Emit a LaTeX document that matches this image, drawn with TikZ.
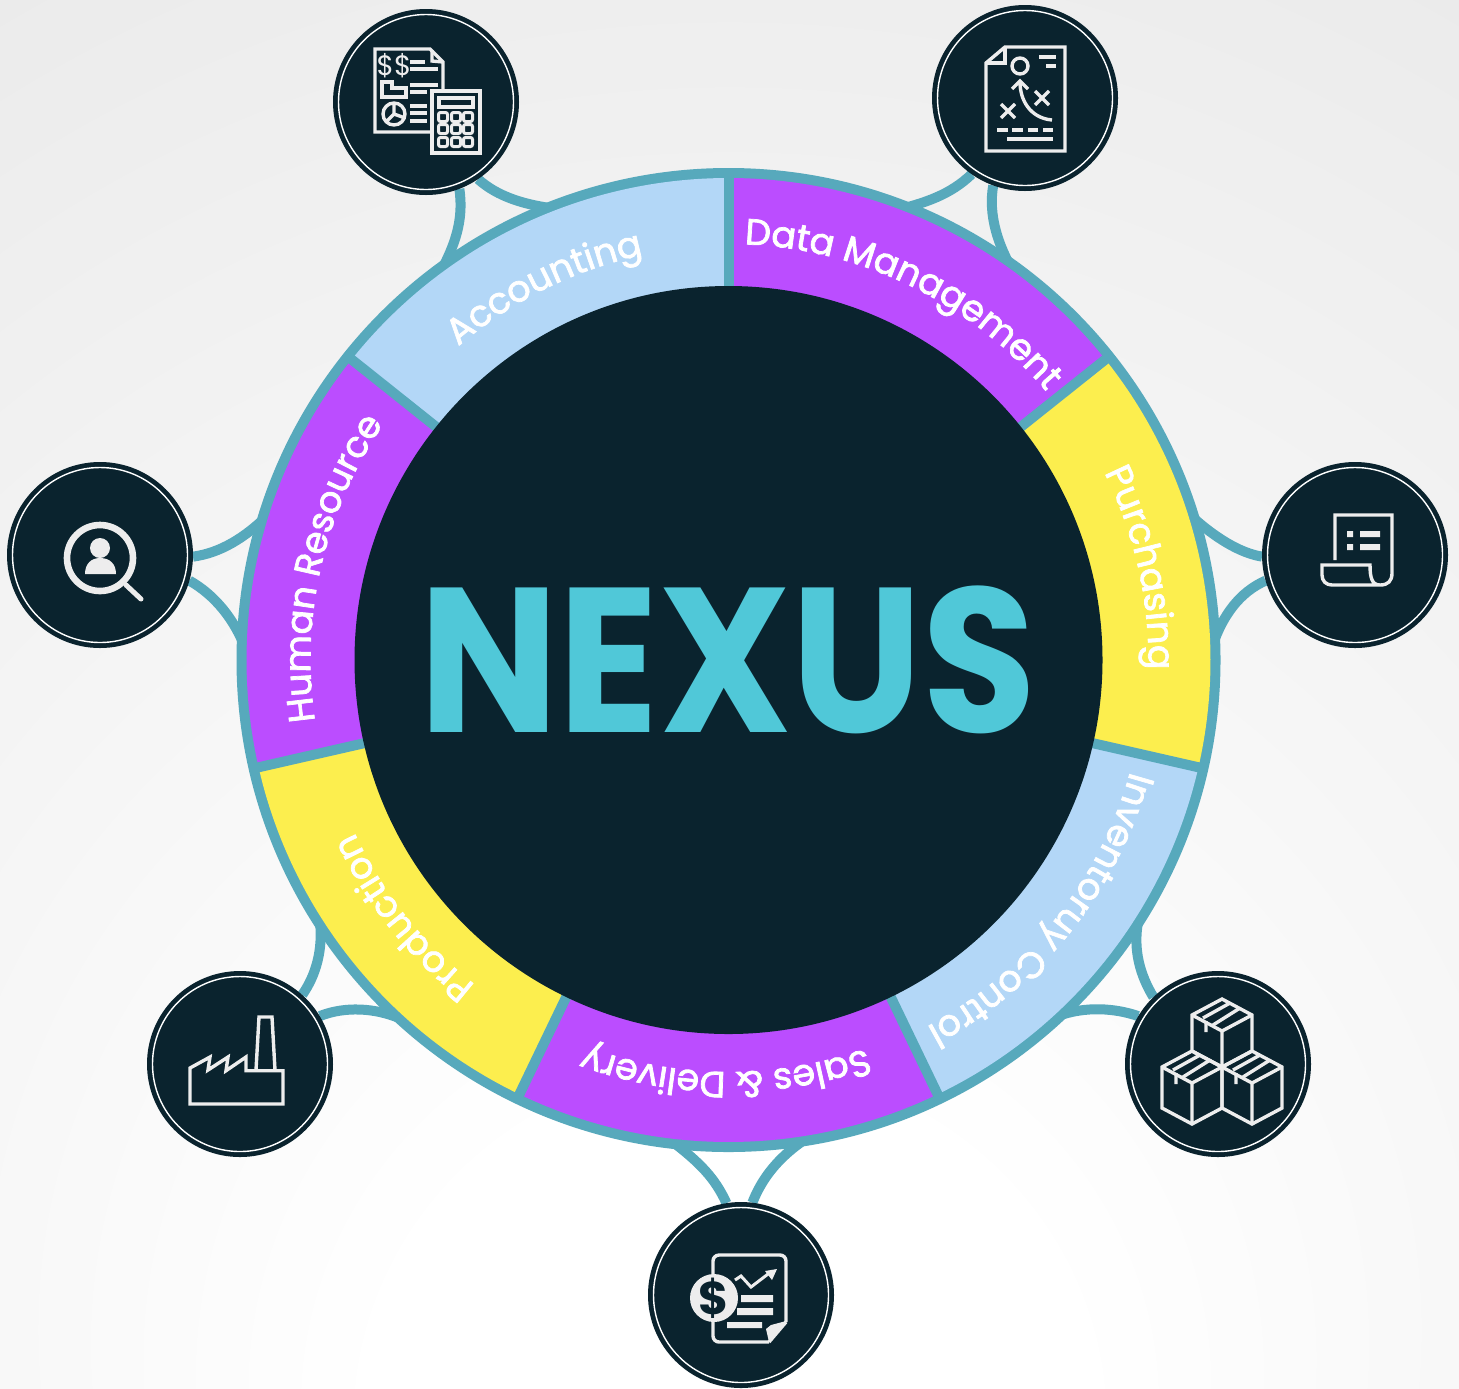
\documentclass[tikz,border=0pt]{standalone}
\usepackage{fontspec}
\setmainfont{Poppins}
\newfontfamily\labelfont[FakeBold=2]{Poppins}
\usetikzlibrary{decorations.text}
\definecolor{ringteal}{HTML}{57A9BC}
\definecolor{darknavy}{HTML}{0A232E}
\definecolor{nexuscyan}{HTML}{50C8D8}
\definecolor{segblue}{HTML}{B3D7F7}
\definecolor{segpurple}{HTML}{BB4DFF}
\definecolor{segyellow}{HTML}{FCEE4E}
\definecolor{iconline}{HTML}{EDEDED}
\definecolor{bggrey}{HTML}{EBEBEB}
\pgfdeclareradialshading{bgshade}{\pgfpoint{0bp}{-30bp}}{color(0bp)=(white); color(12bp)=(white); color(48bp)=(bggrey); color(100bp)=(bggrey)}
\pgfdeclarelayer{bglayer}
\pgfdeclarelayer{connlayer}
\pgfsetlayers{bglayer,connlayer,main}
\newcommand{\seglabel}[4]{% mid angle, half span, radius, text
  \path[decorate,decoration={text along path,text align=center,
    text={|\labelfont\fontsize{18.2}{20}\selectfont\color{white}|#4}}]
    ({#1+#2}:#3) arc[start angle={#1+#2},end angle={#1-#2},radius=#3];}
\newcommand{\ringseg}[3]{\fill[#3] (0,0) -- (#1:482) arc[start angle=#1,end angle=#2,radius=482] -- cycle;}
\tikzset{
  hub/.style={circle,fill=darknavy,minimum size=93pt,inner sep=0pt,outer sep=0pt},
  hubring/.style={draw=white,line width=0.7pt},
  linker/.style={draw=ringteal,line width=5pt},
  icon/.style={draw=iconline,line width=1.7pt,line join=miter},
  iconfill/.style={fill=iconline,draw=none}
}
\begin{document}
\begin{tikzpicture}[x=.5pt,y=-.5pt]
\useasboundingbox (0,0) rectangle (1459,1388);
\begin{pgfonlayer}{bglayer}
\shade[shading=bgshade] (0,0) rectangle (1459,1388);
\end{pgfonlayer}

% Hubs
\node[hub] (ic1) at (426,102) {};
\node[hub] (ic2) at (1025,98) {};
\node[hub] (ic3) at (1355,555) {};
\node[hub] (ic4) at (100,555) {};
\node[hub] (ic5) at (1218,1064) {};
\node[hub] (ic6) at (240,1064) {};
\node[hub] (ic7) at (741,1295) {};
\foreach \n in {ic1,ic2,ic3,ic4,ic5,ic6,ic7}
  \draw[hubring] (\n) circle[radius=87.5];

% Connector attachment points on the ring
\coordinate (r1a) at (557,209);
\coordinate (r1b) at (440,273);
\coordinate (r2a) at (893,211);
\coordinate (r2b) at (1013,271);
\coordinate (r3a) at (1189,514);
\coordinate (r3b) at (1211,650);
\coordinate (r4a) at (269,514);
\coordinate (r4b) at (246,650);
\coordinate (r5a) at (1138,922);
\coordinate (r5b) at (1058,1016);
\coordinate (r6a) at (320,922);
\coordinate (r6b) at (399,1018);
\coordinate (r7a) at (673,1142);
\coordinate (r7b) at (804,1140);

\begin{pgfonlayer}{connlayer}
\draw[linker] (ic1.-56) .. controls (498,197) and (525,205) .. (r1a);
\draw[linker] (ic1.-69) .. controls (464,220) and (455,245) .. (r1b);
\draw[linker] (ic2.-125) .. controls (950,195) and (925,203) .. (r2a);
\draw[linker] (ic2.-110) .. controls (988,215) and (998,245) .. (r2b);
\draw[linker] (ic3.181) .. controls (1240,553) and (1215,538) .. (r3a);
\draw[linker] (ic3.-164) .. controls (1240,592) and (1222,615) .. (r3b);
\draw[linker] (ic4.-1) .. controls (220,553) and (245,538) .. (r4a);
\draw[linker] (ic4.-16) .. controls (215,595) and (235,620) .. (r4b);
\draw[linker] (ic5.134) .. controls (1140,975) and (1133,950) .. (r5a);
\draw[linker] (ic5.149) .. controls (1115,1008) and (1085,1006) .. (r5b);
\draw[linker] (ic6.48) .. controls (316,975) and (323,950) .. (r6a);
\draw[linker] (ic6.31.5) .. controls (345,1006) and (375,1008) .. (r6b);
\draw[linker] (ic7.99) .. controls (715,1178) and (700,1163) .. (r7a);
\draw[linker] (ic7.83) .. controls (762,1178) and (778,1158) .. (r7b);
\end{pgfonlayer}

% Ring
\begin{scope}[shift={(728.5,660)},x=.5pt,y=.5pt]
\fill[ringteal] (0,0) circle[radius=492];
\ringseg{90}{38.57}{segpurple}
\ringseg{38.57}{-12.86}{segyellow}
\ringseg{-12.86}{-64.29}{segblue}
\ringseg{-64.29}{-115.71}{segpurple}
\ringseg{-115.71}{-167.14}{segyellow}
\ringseg{-167.14}{-218.57}{segpurple}
\ringseg{-218.57}{-270}{segblue}
\foreach \a in {90,38.57,-12.86,-64.29,-115.71,-167.14,-218.57}
  \draw[ringteal,line width=5pt] (0,0) -- (\a:490);
\fill[darknavy] (0,0) circle[radius=374];
\seglabel{64.0}{25}{416}{Data Management}
\seglabel{12.6}{25}{420}{Purchasing}
\seglabel{-38.6}{25}{417}{Inventoruy Control}
\seglabel{-90.4}{25}{412}{Sales {\&} Delivery}
\seglabel{-141.6}{25}{412}{Production}
\seglabel{-193.0}{25}{418}{Human Resource}
\seglabel{116.3}{25}{414}{Accounting}
\end{scope}

\node[text=nexuscyan,font=\fontsize{103}{110}\selectfont\bfseries,inner sep=0pt,xscale=.9,transform shape] (title) at (728,660) {NEXUS};

% Icon 1: accounting
\draw[icon] (431,132) -- (375,132) -- (375,49) -- (430,49) -- (443,62) -- (443,91);
\draw[icon] (432,50) -- (432,61) -- (443,62);
\node[text=iconline,font=\fontsize{14}{15}\selectfont,inner sep=0pt] (dollars) at (394,66) {\$\$};
\draw[icon] (410,62) -- (425,62) (410,69) -- (438,69) (410,85) -- (438,85) (410,92) -- (427,92)
  (410,106) -- (427,106) (410,113) -- (427,113) (410,121) -- (427,121);
\draw[icon] (382,82) -- (392,82) -- (392,88) -- (406,88) -- (406,97) -- (382,97) -- cycle;
\draw[icon] (394,114) circle[radius=11] (394,103) -- (394,114) -- (405,118) (394,114) -- (386,122);
\draw[icon,fill=darknavy] (432,91) rectangle (480,153);
\draw[icon] (439,98) rectangle (473,107);
\foreach \bx in {443,456,468} \foreach \by in {117,129,142}
  \draw[iconline,line width=1.5pt,rounded corners=1pt] (\bx-4.5,\by-4.5) rectangle (\bx+4.5,\by+4.5);

% Icon 2: data management
\draw[icon] (986,63) -- (1005,47) -- (1065,47) -- (1065,151) -- (986,151) -- cycle;
\draw[icon] (1005,47) -- (1005,63) -- (986,63);
\draw[icon] (1020,66) circle[radius=8];
\draw[icon] (1039,57) -- (1056,57) (1046,66) -- (1056,66);
\draw[icon] (1052,120) .. controls (1030,118) and (1020,100) .. (1020,82);
\draw[icon] (1012,89) -- (1020,81) -- (1028,89);
\draw[icon] (1035,91) -- (1049,105) (1035,105) -- (1049,91);
\draw[icon] (1001,104) -- (1015,118) (1001,118) -- (1015,104);
\draw[icon] (997,130) -- (1008,130) (1012,130) -- (1023,130) (1028,130) -- (1038,130) (1043,130) -- (1053,130);
\draw[icon] (1007,139) -- (1053,139);

% Icon 3: purchasing
\draw[icon] (1335,560) -- (1335,515) -- (1392,515) -- (1392,573)
  .. controls (1392,581) and (1388,585) .. (1380,585) -- (1332,585)
  .. controls (1326,585) and (1322,581) .. (1322,575) -- (1322,565) -- (1370,565)
  .. controls (1370,578) and (1372,585) .. (1380,585);
\fill[iconfill] (1347,531) rectangle (1353,537) (1347,544) rectangle (1353,550)
  (1360,531) rectangle (1380,537) (1360,544) rectangle (1380,550);

% Icon 4: human resource
\draw[iconline,line width=3.3pt] (100,558) circle[radius=33];
\draw[iconline,line width=2.5pt,line cap=round] (126,585) -- (141,599);
\fill[iconfill] (100,548) circle[radius=10];
\fill[iconfill] (85,574) .. controls (85,564) and (91,558) .. (100,558) .. controls (110,558) and (116,564) .. (116,574) -- cycle;

% Icon 5: inventory control
\foreach \dx/\dy/\h in {0/0/36,-30/52/41,30/52/41}{
\begin{scope}[shift={(1222+\dx,999+\dy)}]
\draw[icon] (0,0) -- (30,16) -- (30,16+\h) -- (0,32+\h) -- (-30,16+\h) -- (-30,16) -- cycle;
\draw[icon] (-30,16) -- (0,32) -- (30,16) (0,32) -- (0,32+\h);
\draw[icon] (-19,19) -- (8,4) (-9,26) -- (18,9) (-16,22) -- (-16,33);
\end{scope}}

% Icon 6: production
\draw[icon] (190,1068) -- (210,1057) -- (208,1070) -- (228,1057) -- (226,1070.7) -- (246,1057) -- (246,1070.7)
  -- (283,1070.7) -- (283,1104) -- (190,1104) -- cycle;
\draw[icon] (256,1070) -- (259,1017) -- (272,1017) -- (275,1070);

% Icon 7: sales and delivery
\draw[icon,rounded corners=3pt] (713,1320) -- (713,1255) -- (786,1255) -- (786,1322);
\draw[icon,rounded corners=3pt] (713,1320) -- (713,1342) -- (769,1342);
\draw[icon] (769,1342) -- (786,1322);
\fill[iconfill] (786,1321) -- (769,1342) -- (766,1329) -- (771,1325) -- cycle;
\fill[iconfill] (741,1295) rectangle (773,1302) (737,1308) rectangle (773,1315) (727,1322) rectangle (762,1328);
\fill[iconfill] (714,1298) circle[radius=24];
\node[text=darknavy,font=\fontsize{23}{24}\selectfont\bfseries,inner sep=0pt] (dollar) at (714,1298) {\$};
\draw[iconline,line width=1.5pt] (735,1280) -- (741,1276) -- (751,1287) -- (768,1274);
\fill[iconfill] (765,1271) -- (777,1269) -- (772,1280) -- cycle;
\end{tikzpicture}
\end{document}
